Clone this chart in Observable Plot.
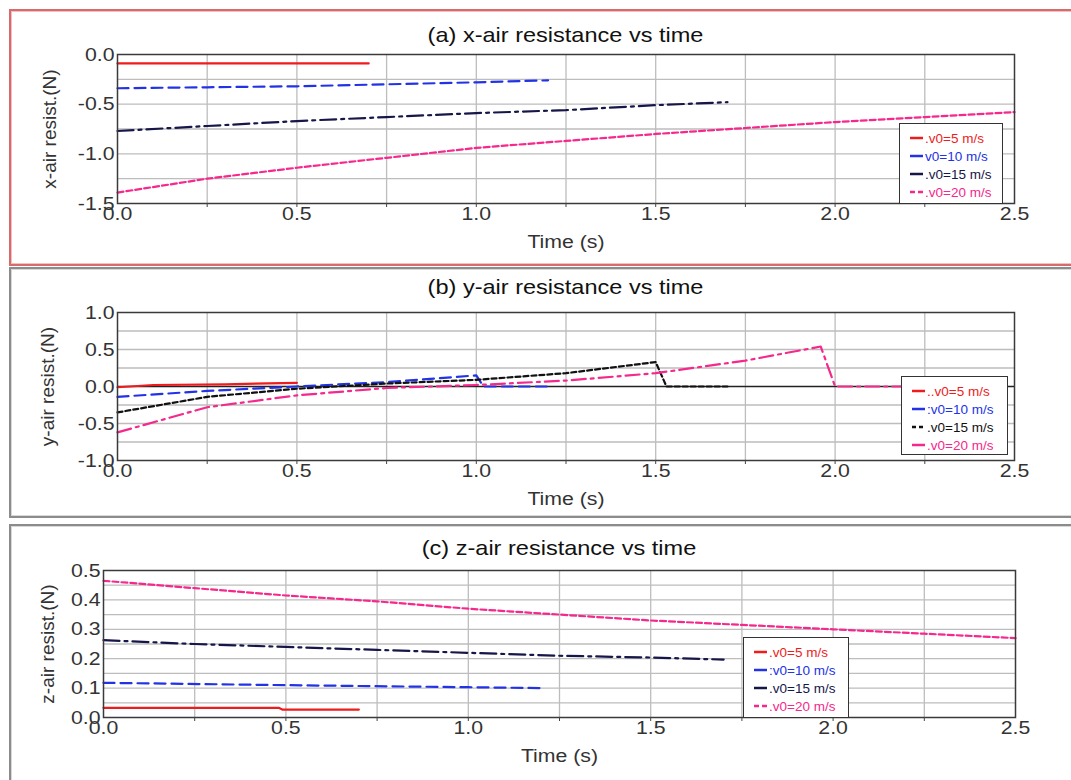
<!DOCTYPE html>
<html><head><meta charset="utf-8">
<script src="https://cdn.jsdelivr.net/npm/d3@7"></script>
<script src="https://cdn.jsdelivr.net/npm/@observablehq/plot@0.6"></script>
<style>
body{margin:0;background:#fff;font-family:"Liberation Sans",Arial,sans-serif;}
#wrap{position:relative;width:1071px;height:780px;overflow:hidden;background:#fff;}
.frame{position:absolute;box-sizing:border-box;pointer-events:none;}
.title{position:absolute;text-align:center;font-size:21px;color:#111;transform:scaleX(1.12);white-space:nowrap;line-height:24px;}
.legend{position:absolute;box-sizing:border-box;border:1.5px solid #333;background:#fff;padding-top:5px;}
.legend .row{display:flex;align-items:center;height:18px;font-size:13.5px;white-space:nowrap;}
.legend svg{margin-left:10px;margin-right:2px;}
.plotbox{position:absolute;left:0;}
</style></head><body><div id="wrap"></div>
<script>
// ---------- data ----------
const xTickValues = [0, 0.5, 1, 1.5, 2, 2.5];
const xGridValues = [0.25, 0.5, 0.75, 1, 1.25, 1.5, 1.75, 2, 2.25];
const yTicksA = [-1.5, -1, -0.5, 0];
const yGridA = [-1.25, -1, -0.75, -0.5, -0.25];
const yTicksB = [-1, -0.5, 0, 0.5, 1];
const yGridB = [-0.75, -0.5, -0.25, 0.25, 0.5, 0.75];
const yTicksC = [0, 0.1, 0.2, 0.3, 0.4, 0.5];
const yGridC = [0.05, 0.1, 0.15, 0.2, 0.25, 0.3, 0.35, 0.4, 0.45];

const titles = ["(a) x-air resistance vs time", "(b) y-air resistance vs time", "(c) z-air resistance vs time"];
const yLabels = ["x-air resist.(N)", "y-air resist.(N)", "z-air resist.(N)"];
const xLabel = "Time (s)";
const legendA = [".v0=5 m/s", "v0=10 m/s", ".v0=15 m/s", ".v0=20 m/s"];
const legendB = ["..v0=5 m/s", ":v0=10 m/s", ".v0=15 m/s", ".v0=20 m/s"];
const legendC = [".v0=5 m/s", ":v0=10 m/s", ".v0=15 m/s", ".v0=20 m/s"];

// (a) x-air resistance
const aT5 = [0, 0.35, 0.7];
const aF5 = [-0.09, -0.09, -0.09];
const aT10 = [0, 0.25, 0.5, 0.75, 1.0, 1.2];
const aF10 = [-0.34, -0.33, -0.32, -0.30, -0.28, -0.26];
const aT15 = [0, 0.25, 0.5, 0.75, 1.0, 1.25, 1.5, 1.7];
const aF15 = [-0.77, -0.72, -0.67, -0.63, -0.59, -0.56, -0.51, -0.48];
const aT20 = [0, 0.25, 0.5, 0.75, 1.0, 1.25, 1.5, 1.75, 2.0, 2.25, 2.5];
const aF20 = [-1.39, -1.25, -1.14, -1.04, -0.94, -0.87, -0.80, -0.74, -0.68, -0.63, -0.58];

// (b) y-air resistance
const bT5 = [0, 0.1, 0.3, 0.5];
const bF5 = [-0.01, 0.02, 0.03, 0.05];
const bT10 = [0, 0.25, 0.5, 0.75, 1.0, 1.02, 1.2];
const bF10 = [-0.14, -0.06, 0.0, 0.06, 0.15, 0.0, 0.0];
const bT15 = [0, 0.25, 0.5, 0.75, 1.0, 1.25, 1.5, 1.53, 1.7];
const bF15 = [-0.35, -0.14, -0.03, 0.04, 0.09, 0.18, 0.33, 0.0, 0.0];
const bT20 = [0, 0.25, 0.5, 0.75, 1.0, 1.25, 1.5, 1.75, 1.96, 2.0, 2.3];
const bF20 = [-0.62, -0.28, -0.12, -0.02, 0.02, 0.08, 0.18, 0.35, 0.54, 0.0, 0.0];

// (c) z-air resistance
const cT5 = [0, 0.48, 0.49, 0.7];
const cF5 = [0.033, 0.033, 0.027, 0.027];
const cT10 = [0, 0.5, 1.0, 1.2];
const cF10 = [0.118, 0.11, 0.103, 0.10];
const cT15 = [0, 0.25, 0.5, 0.75, 1.0, 1.25, 1.5, 1.7];
const cF15 = [0.263, 0.25, 0.24, 0.23, 0.22, 0.21, 0.204, 0.197];
const cT20 = [0, 0.25, 0.5, 0.75, 1.0, 1.25, 1.5, 1.75, 2.0, 2.25, 2.5];
const cF20 = [0.465, 0.44, 0.415, 0.395, 0.37, 0.35, 0.33, 0.315, 0.30, 0.285, 0.27];

// ---------- styles ----------
const RED = "#ee1c1c", BLUE = "#2233e6", NAVY = "#16164a", PINK = "#f5288c", BLACK = "#111111";
const SOLID = null, DASH = "11,6", DASHDOT = "16,5,3,5", SHORT = "6,3";

const W = 1071;
const wrap = document.getElementById("wrap");

function stretchText(svg, s) {
  svg.querySelectorAll("text").forEach(t => {
    const tr = t.getAttribute("transform") || "";
    if (/rotate/.test(tr)) return;
    const x = parseFloat(t.getAttribute("x") || "0") || 0;
    t.removeAttribute("x");
    t.setAttribute("transform", `${tr} translate(${x},0) scale(${s},1)`);
  });
}

function panel(cfg) {
  const marks = [
    Plot.gridX({ticks: xGridValues, stroke: "#bdbdbd", strokeOpacity: 1, strokeWidth: 1.3}),
    Plot.gridY({ticks: cfg.yGrid, stroke: "#bdbdbd", strokeOpacity: 1, strokeWidth: 1.3})
  ];
  if (cfg.zero) marks.push(Plot.ruleY([0], {stroke: "#222", strokeWidth: 1.5}));
  cfg.series.forEach(s => {
    const data = d3.zip(s.t, s.v).map(([t, v]) => ({t, v}));
    marks.push(Plot.line(data, {x: "t", y: "v", stroke: s.color, strokeWidth: 2.2, strokeDasharray: s.dash}));
  });
  marks.push(Plot.frame({stroke: "#3a3a3a", strokeWidth: 1.5}));
  marks.push(Plot.axisX({ticks: xGridValues, tickSize: 4, tickFormat: () => "", label: null, stroke: "#444"}));
  marks.push(Plot.axisX({ticks: xTickValues, tickSize: 0, tickPadding: 3, tickFormat: d => d.toFixed(1),
    label: xLabel, labelAnchor: "center", labelArrow: false, labelOffset: 44, fontSize: 19}));
  marks.push(Plot.axisY({ticks: cfg.yTicks, tickSize: 0, tickPadding: 3, tickFormat: d => d.toFixed(1),
    label: cfg.yLabel, labelAnchor: "center", labelArrow: false, labelOffset: cfg.labelOffset, fontSize: 19}));
  const svg = Plot.plot({
    width: W, height: cfg.height,
    marginTop: cfg.plotTop - cfg.top, marginBottom: cfg.top + cfg.height - cfg.plotBottom,
    marginLeft: cfg.left, marginRight: W - cfg.right,
    x: {domain: [0, 2.5]}, y: {domain: cfg.yDomain},
    style: {fontFamily: '"Liberation Sans", Arial, sans-serif', background: "transparent", overflow: "visible", color: "#333"},
    marks
  });
  stretchText(svg, 1.12);
  const box = document.createElement("div");
  box.className = "plotbox";
  box.style.top = cfg.top + "px";
  box.appendChild(svg);
  wrap.appendChild(box);

  const title = document.createElement("div");
  title.className = "title";
  title.textContent = cfg.title;
  title.style.left = cfg.left + "px";
  title.style.width = (cfg.right - cfg.left) + "px";
  title.style.top = (cfg.titleY - 12) + "px";
  wrap.appendChild(title);

  const lg = d3.select(wrap).append("div").attr("class", "legend")
    .style("left", cfg.legend.x + "px").style("top", cfg.legend.y + "px")
    .style("width", cfg.legend.w + "px").style("height", cfg.legend.h + "px");
  cfg.series.forEach((s, i) => {
    const row = lg.append("div").attr("class", "row");
    const sv = row.append("svg").attr("width", 13).attr("height", 4);
    sv.append("line").attr("x1", 0).attr("x2", 13).attr("y1", 2).attr("y2", 2)
      .attr("stroke", s.color).attr("stroke-width", 2.5).attr("stroke-dasharray", s.legendDash);
    row.append("span").style("color", s.color).text(cfg.legendLabels[i]);
  });

  const fr = document.createElement("div");
  fr.className = "frame";
  Object.assign(fr.style, cfg.frameStyle);
  wrap.appendChild(fr);
}

panel({
  top: 0, height: 265, plotTop: 54, plotBottom: 203, left: 117, right: 1014,
  yDomain: [-1.5, 0], yTicks: yTicksA, yGrid: yGridA, yLabel: yLabels[0], labelOffset: 75,
  title: titles[0], titleY: 35, legendLabels: legendA,
  legend: {x: 899, y: 123, w: 104, h: 81},
  series: [
    {t: aT5, v: aF5, color: RED, dash: SOLID, legendDash: null},
    {t: aT10, v: aF10, color: BLUE, dash: DASH, legendDash: null},
    {t: aT15, v: aF15, color: NAVY, dash: DASHDOT, legendDash: null},
    {t: aT20, v: aF20, color: PINK, dash: SHORT, legendDash: "5,3"}
  ],
  frameStyle: {left: "9px", top: "9px", width: "1080px", height: "257px", border: "2px solid #d76a6a", boxShadow: "inset 0 0 0 1px #f3c0c0"}
});

panel({
  top: 265, height: 255, plotTop: 312, plotBottom: 460, left: 117, right: 1014,
  yDomain: [-1, 1], yTicks: yTicksB, yGrid: yGridB, yLabel: yLabels[1], labelOffset: 77, zero: true,
  title: titles[1], titleY: 287, legendLabels: legendB,
  legend: {x: 901, y: 376, w: 107, h: 79},
  series: [
    {t: bT5, v: bF5, color: RED, dash: SOLID, legendDash: null},
    {t: bT10, v: bF10, color: BLUE, dash: DASH, legendDash: null},
    {t: bT15, v: bF15, color: BLACK, dash: "5,3", legendDash: "4,3"},
    {t: bT20, v: bF20, color: PINK, dash: "14,5,3,5", legendDash: null}
  ],
  frameStyle: {left: "9px", top: "267px", width: "1080px", height: "251px", border: "2px solid #8c8c8c", boxShadow: "inset 0 0 0 1px #d8d8d8"}
});

panel({
  top: 520, height: 260, plotTop: 570, plotBottom: 717, left: 103, right: 1015,
  yDomain: [0, 0.5], yTicks: yTicksC, yGrid: yGridC, yLabel: yLabels[2], labelOffset: 63,
  title: titles[2], titleY: 548, legendLabels: legendC,
  legend: {x: 743, y: 637, w: 106, h: 81},
  series: [
    {t: cT5, v: cF5, color: RED, dash: SOLID, legendDash: null},
    {t: cT10, v: cF10, color: BLUE, dash: DASH, legendDash: null},
    {t: cT15, v: cF15, color: NAVY, dash: DASHDOT, legendDash: null},
    {t: cT20, v: cF20, color: PINK, dash: SHORT, legendDash: "5,3"}
  ],
  frameStyle: {left: "9px", top: "524px", width: "1080px", height: "262px", border: "2px solid #8c8c8c", boxShadow: "inset 0 0 0 1px #d8d8d8"}
});
</script></body></html>
